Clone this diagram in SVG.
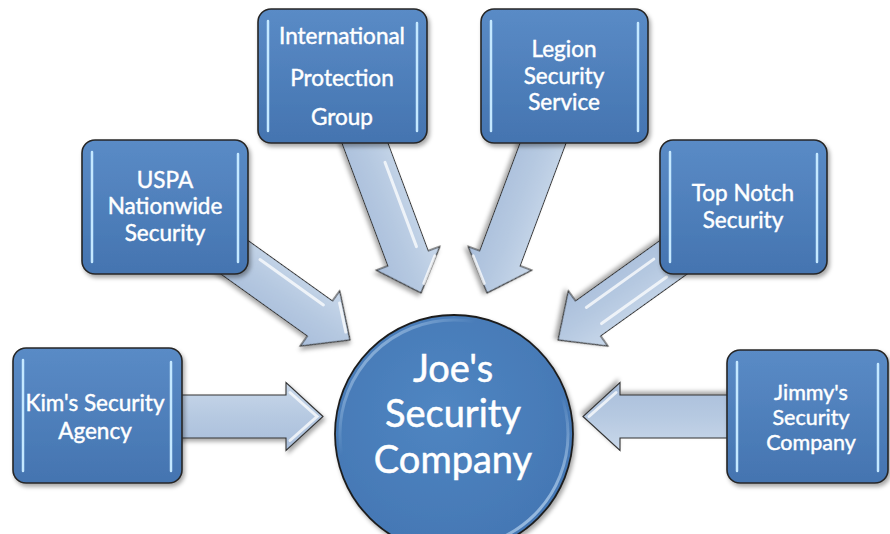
<svg xmlns="http://www.w3.org/2000/svg" width="890" height="534" viewBox="0 0 890 534">
<defs>
  <linearGradient id="boxFill" x1="0" y1="0" x2="0" y2="1">
    <stop offset="0" stop-color="#5a8bc6"/>
    <stop offset="1" stop-color="#4474b0"/>
  </linearGradient>
  <radialGradient id="circFill" cx="0.45" cy="0.4" r="0.6">
    <stop offset="0" stop-color="#5086c2"/>
    <stop offset="1" stop-color="#4477b4"/>
  </radialGradient>
  <linearGradient id="rim" x1="0" y1="0" x2="1" y2="1">
    <stop offset="0" stop-color="#d6ecff" stop-opacity="0.8"/>
    <stop offset="0.3" stop-color="#d6ecff" stop-opacity="0"/>
    <stop offset="0.65" stop-color="#d6ecff" stop-opacity="0"/>
    <stop offset="1" stop-color="#d6ecff" stop-opacity="0.95"/>
  </linearGradient>
  <linearGradient id="arrowFill" gradientUnits="userSpaceOnUse" x1="0" y1="-34" x2="0" y2="34">
    <stop offset="0" stop-color="#c9d8ea"/>
    <stop offset="0.5" stop-color="#b6c9e1"/>
    <stop offset="1" stop-color="#a9bedb"/>
  </linearGradient>
  <filter id="shadow" x="-10%" y="-10%" width="130%" height="130%">
    <feDropShadow dx="2" dy="3" stdDeviation="2" flood-color="#000" flood-opacity="0.35"/>
  </filter>
</defs>
<style>
  .box { fill: url(#boxFill); stroke: #262626; stroke-width: 1.6; filter: url(#shadow); }
  .hl { stroke: #c4e8ff; stroke-width: 2.5; stroke-linecap: round; fill: none; }
  .lbl { font-family: Lato, "Open Sans", "DejaVu Sans", sans-serif; font-size: 22.5px; fill: #ffffff; stroke: #ffffff; stroke-width: 0.45; text-anchor: middle; }
  .sm { font-size: 21.5px; }
  .big { font-family: Lato, "Open Sans", "DejaVu Sans", sans-serif; font-size: 38px; fill: #ffffff; stroke: #ffffff; stroke-width: 0.5; text-anchor: middle; }
  .arrow { fill: url(#arrowFill); stroke: #333333; stroke-width: 1.1; stroke-linejoin: miter; filter: url(#shadow); }
  .streak { stroke: #ffffff; stroke-opacity: 0.75; stroke-width: 3; stroke-linecap: round; fill: none; }
</style>

<g id="connectors">
  <!-- Kim's -> Joe's -->
  <g transform="translate(323,416.5) rotate(0)">
    <path class="arrow" d="M0,0 L-37,-34 L-37,-21.5 L-150,-21.5 L-150,21.5 L-37,21.5 L-37,34 Z"/>
    <path class="streak" d="M-33,-24 L-6,0 L-33,24" stroke-opacity="0.5"/>
  </g>
  <!-- Jimmy's -> Joe's -->
  <g transform="translate(583,416.5) rotate(180)">
    <path class="arrow" d="M0,0 L-37,-34 L-37,-21.5 L-150,-21.5 L-150,21.5 L-37,21.5 L-37,34 Z"/>
    <path class="streak" d="M-33,24 L-6,0" stroke-opacity="0.5"/>
  </g>
  <!-- USPA -> Joe's -->
  <g transform="translate(350,340) rotate(35.6)">
    <path class="arrow" d="M0,0 L-37,-34 L-37,-21.5 L-156,-21.5 L-156,21.5 L-37,21.5 L-37,34 Z"/>
    <path class="streak" d="M-120,-13 L-42,-13" stroke-opacity="0.45"/>
    <path class="streak" d="M-30,-24 L-8,-4"/>
  </g>
  <!-- Top Notch -> Joe's -->
  <g transform="translate(558,340) rotate(144.4)">
    <path class="arrow" d="M0,0 L-37,-34 L-37,-21.5 L-156,-21.5 L-156,21.5 L-37,21.5 L-37,34 Z"/>
    <path class="streak" d="M-125,10 L-42,10"/>
    <path class="streak" d="M-125,-12 L-45,-12"/>
  </g>
  <!-- International -> Joe's -->
  <g transform="translate(421,293) rotate(69.5)">
    <path class="arrow" d="M0,0 L-37,-34 L-37,-21.5 L-172,-21.5 L-172,21.5 L-37,21.5 L-37,34 Z"/>
    <path class="streak" d="M-135,-12 L-45,-12" stroke-opacity="0.45"/>
    <path class="streak" d="M-30,-26 L-8,-6" stroke-opacity="0.6"/>
  </g>
  <!-- Legion -> Joe's -->
  <g transform="translate(487,293) rotate(110.5)">
    <path class="arrow" d="M0,0 L-37,-34 L-37,-21.5 L-172,-21.5 L-172,21.5 L-37,21.5 L-37,34 Z"/>
    <path class="streak" d="M-30,26 L-8,6" stroke-opacity="0.6"/>
  </g>
</g>

<g id="joes">
  <circle cx="454" cy="434" r="119" fill="url(#circFill)" stroke="#1f1f1f" stroke-width="1.8" filter="url(#shadow)"/>
  <circle cx="454" cy="434" r="114" fill="none" stroke="url(#rim)" stroke-width="3"/>
  <text class="big" x="453" y="382">Joe's</text>
  <text class="big" x="453" y="427">Security</text>
  <text class="big" x="453" y="473">Company</text>
</g>

<g id="kims">
  <rect class="box" x="13" y="348" width="169" height="135" rx="13"/>
  <line class="hl" x1="23" y1="360" x2="23" y2="471"/>
  <line class="hl" x1="171" y1="362" x2="171" y2="471"/>
  <text class="lbl" x="95" y="411">Kim's Security</text>
  <text class="lbl" x="95" y="439">Agency</text>
</g>

<g id="uspa">
  <rect class="box" x="82" y="140" width="166" height="134" rx="13"/>
  <line class="hl" x1="92" y1="152" x2="92" y2="262"/>
  <line class="hl" x1="238" y1="154" x2="238" y2="262"/>
  <text class="lbl" x="165" y="188">USPA</text>
  <text class="lbl" x="165" y="214">Nationwide</text>
  <text class="lbl" x="165" y="241">Security</text>
</g>

<g id="international">
  <rect class="box" x="258" y="9" width="169" height="134" rx="13"/>
  <line class="hl" x1="268" y1="21" x2="268" y2="131"/>
  <line class="hl" x1="417" y1="23" x2="417" y2="131"/>
  <text class="lbl" x="342" y="44">International</text>
  <text class="lbl" x="342" y="86">Protection</text>
  <text class="lbl" x="342" y="125">Group</text>
</g>

<g id="legion">
  <rect class="box" x="481" y="9" width="167" height="134" rx="13"/>
  <line class="hl" x1="491" y1="21" x2="491" y2="131"/>
  <line class="hl" x1="638" y1="23" x2="638" y2="131"/>
  <text class="lbl" x="564" y="57">Legion</text>
  <text class="lbl" x="564" y="84">Security</text>
  <text class="lbl" x="564" y="110">Service</text>
</g>

<g id="topnotch">
  <rect class="box" x="660" y="140" width="167" height="134" rx="13"/>
  <line class="hl" x1="670" y1="152" x2="670" y2="262"/>
  <line class="hl" x1="817" y1="154" x2="817" y2="262"/>
  <text class="lbl" x="743" y="201">Top Notch</text>
  <text class="lbl" x="743" y="228">Security</text>
</g>

<g id="jimmys">
  <rect class="box" x="727" y="350" width="161" height="133" rx="13"/>
  <line class="hl" x1="737" y1="362" x2="737" y2="471"/>
  <line class="hl" x1="878" y1="364" x2="878" y2="471"/>
  <text class="lbl sm" x="811" y="400">Jimmy's</text>
  <text class="lbl sm" x="811" y="425">Security</text>
  <text class="lbl sm" x="811" y="450">Company</text>
</g>
</svg>
